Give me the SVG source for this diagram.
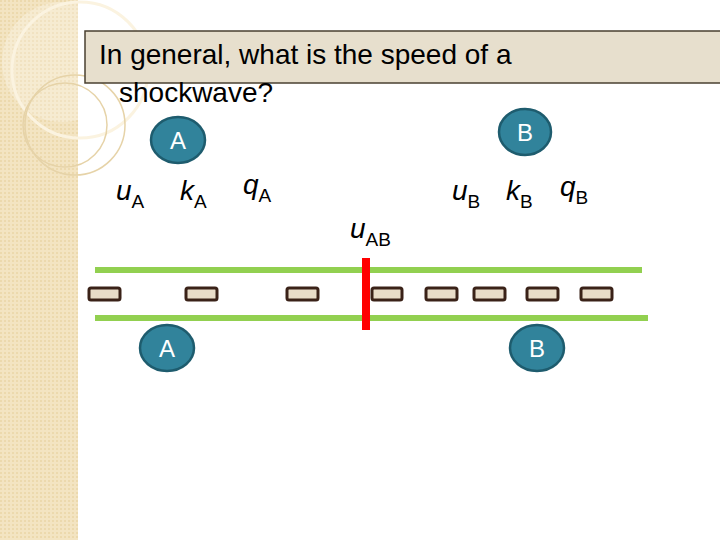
<svg xmlns="http://www.w3.org/2000/svg" width="720" height="540" viewBox="0 0 720 540">
<defs>
<pattern id="pt" width="4" height="4" patternUnits="userSpaceOnUse"><rect width="4" height="4" fill="#f3e4c2"/><rect width="2" height="2" fill="#ecd9ad"/></pattern>
</defs>
<style>
.t{font-family:"Liberation Sans",Arial,sans-serif;fill:#000}
.v{font-family:"Liberation Sans",Arial,sans-serif;font-style:italic;font-size:28px}
.s{font-style:normal;font-size:19px}
.c{fill:#31839b;stroke:#1e5c6e;stroke-width:2.5}
.cl{font-family:"Liberation Sans",Arial,sans-serif;font-size:24px;fill:#fff;text-anchor:middle}
.car{fill:#e8dcc8;stroke:#3a2218;stroke-width:3}
.rd{stroke:#92d050;stroke-width:6}
</style>
<rect width="720" height="540" fill="#fff"/>
<g id="sidebar">
<rect x="0" y="0" width="78" height="540" fill="url(#pt)"/>
<circle cx="62" cy="62" rx="0" r="60" fill="#fff" opacity="0.25"/>
<circle cx="80" cy="70" r="68" fill="none" stroke="#fbf3e0" stroke-width="3"/>
<circle cx="65" cy="125" r="42" fill="none" stroke="#e6d3a8" stroke-width="1.5"/>
<circle cx="75" cy="125" r="50" fill="none" stroke="#e6d3a8" stroke-width="1.5"/>
</g>
<g id="title">
<rect x="85" y="31" width="640" height="52" fill="#e7dfcd" stroke="#4a4030" stroke-width="1.5"/>
<text class="t" x="99" y="64" font-size="28">In general, what is the speed of a</text>
<text class="t" x="119" y="102" font-size="28">shockwave?</text>
</g>
<g id="road">
<line class="rd" x1="95" y1="270" x2="642" y2="270"/>
<line class="rd" x1="95" y1="318" x2="648" y2="318"/>
<rect class="car" x="89" y="288" width="31" height="12" rx="2"/>
<rect class="car" x="186" y="288" width="31" height="12" rx="2"/>
<rect class="car" x="287" y="288" width="31" height="12" rx="2"/>
<rect class="car" x="372" y="288" width="30" height="12" rx="2"/>
<rect class="car" x="426" y="288" width="31" height="12" rx="2"/>
<rect class="car" x="474" y="288" width="31" height="12" rx="2"/>
<rect class="car" x="527" y="288" width="31" height="12" rx="2"/>
<rect class="car" x="581" y="288" width="31" height="12" rx="2"/>
<rect x="362" y="258" width="8" height="72" fill="#ff0000"/>
</g>
<g id="nodeA1"><ellipse class="c" cx="178" cy="140" rx="27" ry="23"/><text class="cl" x="178" y="149">A</text></g>
<g id="nodeB1"><ellipse class="c" cx="525" cy="132" rx="26" ry="23"/><text class="cl" x="525" y="141">B</text></g>
<g id="nodeA2"><ellipse class="c" cx="167" cy="348" rx="27" ry="23"/><text class="cl" x="167" y="357">A</text></g>
<g id="nodeB2"><ellipse class="c" cx="537" cy="348" rx="27" ry="23"/><text class="cl" x="537" y="357">B</text></g>
<g id="labels">
<text class="v" x="116" y="200">u<tspan class="s" dy="8">A</tspan></text>
<text class="v" x="180" y="200">k<tspan class="s" dy="8">A</tspan></text>
<text class="v" x="243" y="194">q<tspan class="s" dy="8">A</tspan></text>
<text class="v" x="350" y="238">u<tspan class="s" dy="8">AB</tspan></text>
<text class="v" x="452" y="200">u<tspan class="s" dy="8">B</tspan></text>
<text class="v" x="506" y="200">k<tspan class="s" dy="8">B</tspan></text>
<text class="v" x="560" y="196">q<tspan class="s" dy="8">B</tspan></text>
</g>
</svg>
